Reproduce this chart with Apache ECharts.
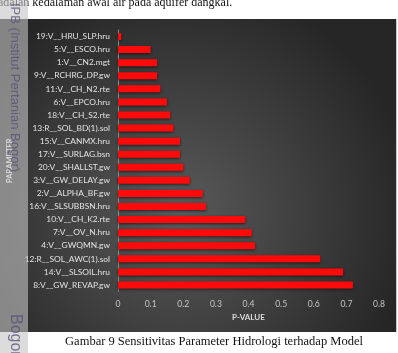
<!DOCTYPE html>
<html>
<head>
<meta charset="utf-8">
<script src="https://cdn.jsdelivr.net/npm/echarts@6/dist/echarts.min.js"></script>
<style>html,body{margin:0;padding:0;background:#fff;}#c{width:398px;height:353px;}</style>
</head>
<body>
<div id="c"></div>
<script>
const categories = [
  '19:V__HRU_SLP.hru','5:V__ESCO.hru','1:V__CN2.mgt','9:V__RCHRG_DP.gw','11:V__CH_N2.rte',
  '6:V__EPCO.hru','18:V__CH_S2.rte','13:R__SOL_BD(1).sol','15:V__CANMX.hru','17:V__SURLAG.bsn',
  '20:V__SHALLST.gw','3:V__GW_DELAY.gw','2:V__ALPHA_BF.gw','16:V__SLSUBBSN.hru','10:V__CH_K2.rte',
  '7:V__OV_N.hru','4:V__GWQMN.gw','12:R__SOL_AWC(1).sol','14:V__SLSOIL.hru','8:V__GW_REVAP.gw'
];
const pValues = [0.01,0.10,0.12,0.12,0.13,0.15,0.16,0.17,0.19,0.19,0.20,0.22,0.26,0.27,0.39,0.41,0.42,0.62,0.69,0.72];
const xTicks = [0,0.1,0.2,0.3,0.4,0.5,0.6,0.7,0.8];
const topText = 'adalah kedalaman awal air pada aquifer dangkal.';
const captionText = 'Gambar 9 Sensitivitas Parameter Hidrologi terhadap Model';
const watermarkTop = 'IPB (Institut Pertanian Bogor)';
const watermarkBottom = 'Bogor Agricultural University';

const chart = echarts.init(document.getElementById('c'), null, {renderer:'canvas'});
const font = 'Lato, "Open Sans", sans-serif';
chart.setOption({
  backgroundColor: '#ffffff',
  animation: false,
  grid: {left: 118, right: 19, top: 30, bottom: 61.5, containLabel: false, outerBoundsMode: 'none'},
  xAxis: {
    type: 'value', min: 0, max: 0.8, interval: 0.1,
    axisLine: {show: false}, axisTick: {show: false}, splitLine: {show: false},
    axisLabel: {color: '#c4c4c4', fontSize: 8.6, fontFamily: font, margin: 8,
      formatter: v => { const t = xTicks.find(x => Math.abs(x - v) < 1e-9); return t === undefined ? '' : String(t); }},
    name: 'P-VALUE', nameLocation: 'middle', nameGap: 22,
    nameTextStyle: {color: '#dcdcdc', fontSize: 8, fontWeight: 'bold', fontFamily: font}
  },
  yAxis: {
    type: 'category', data: categories, inverse: true,
    axisLine: {show: true, lineStyle: {color: '#8c8c8c', width: 1}},
    axisTick: {show: false},
    axisLabel: {color: '#e2e2e2', fontSize: 8.4, fontFamily: font, margin: 8},
    name: 'PARAMETER', nameLocation: 'middle', nameGap: 100, nameRotate: 90,
    nameTextStyle: {color: '#f0f0f0', fontSize: 7.5, fontWeight: 'bold', fontFamily: font}
  },
  series: [{
    type: 'bar', data: pValues, barWidth: 7,
    itemStyle: {color: '#ff0a0a', shadowColor: 'rgba(0,0,0,0.6)', shadowBlur: 3, shadowOffsetY: 1}
  }],
  graphic: [
    {type: 'rect', z: -10, shape: {x: 0, y: 19, width: 396, height: 313},
      style: {fill: {type: 'radial', x: 0.45, y: 0.62, r: 0.75,
        colorStops: [{offset: 0, color: '#5a5a5a'}, {offset: 1, color: '#262626'}]}}},
    {type: 'rect', z: -9, shape: {x: 396, y: 19, width: 1, height: 313}, style: {fill: '#c8c8c8'}},
    {type: 'text', z: 50, x: -2, y: 3,
      style: {text: topText, fill: '#111', font: '12px "Liberation Serif", "DejaVu Serif", serif', textVerticalAlign: 'middle'}},
    {type: 'text', z: 50, x: 214, y: 342,
      style: {text: captionText, fill: '#111', font: '12.5px "Liberation Serif", "DejaVu Serif", serif', textAlign: 'center', textVerticalAlign: 'middle'}},
    {type: 'rect', z: 100, shape: {x: 0, y: 0, width: 28, height: 353}, style: {fill: 'rgba(197,197,197,0.6)'}},
    {type: 'text', z: 101, x: 15, y: 3, rotation: -Math.PI / 2,
      style: {text: watermarkTop, fill: 'rgba(80,80,120,0.75)', font: '13px "Liberation Sans", sans-serif', textVerticalAlign: 'middle'}},
    {type: 'text', z: 101, x: 15, y: 314, rotation: -Math.PI / 2,
      style: {text: watermarkBottom, fill: 'rgba(80,80,120,0.75)', font: '16px "Liberation Sans", sans-serif', textVerticalAlign: 'middle'}}
  ]
});
</script>
</body>
</html>
